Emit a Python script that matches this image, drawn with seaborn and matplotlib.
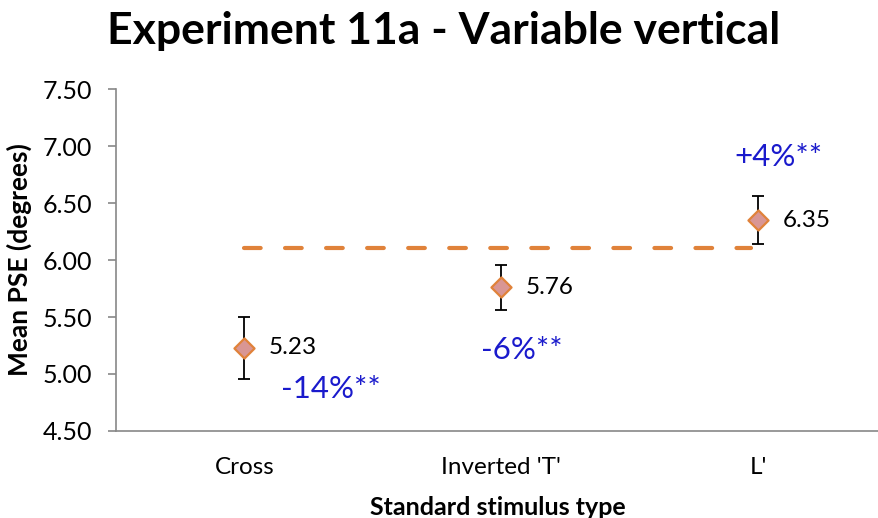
import matplotlib
matplotlib.use("Agg")
import matplotlib.pyplot as plt
import seaborn as sns
import pandas as pd

# Data
stimuli = ["Cross", "Inverted 'T'", "L'"]
mean_pse = [5.23, 5.76, 6.35]
pse_error = [0.27, 0.20, 0.21]
baseline_pse = 6.11
change_labels = ["-14%**", "-6%**", "+4%**"]
change_label_pos = [(0.335, 4.87), (1.08, 5.21), (2.08, 6.90)]
y_ticks = [4.50, 5.00, 5.50, 6.00, 6.50, 7.00, 7.50]

df = pd.DataFrame({"stimulus": stimuli, "pse": mean_pse, "err": pse_error})

sns.set_style("white")
plt.rcParams["font.family"] = ["Lato", "DejaVu Sans"]
plt.rcParams["text.color"] = "black"
plt.rcParams["axes.labelcolor"] = "black"

fig = plt.figure(figsize=(8.79, 5.18), dpi=100)
ax = fig.add_axes([0.132, 0.168, 0.868, 0.660])

orange = "#E0823A"
pink = "#D99694"
blue = "#1A1ACC"

# Reference line for the baseline condition
ax.plot([0, 1.973], [baseline_pse, baseline_pse], color=orange, lw=3,
        linestyle=(0, (4.0, 5.85)), dash_capstyle="round", zorder=1)

# Error bars
ax.errorbar(range(len(stimuli)), df["pse"], yerr=df["err"], fmt="none",
            ecolor="black", elinewidth=1.3, capsize=4.5, capthick=1.3, zorder=2)

# Means
sns.scatterplot(data=df, x="stimulus", y="pse", marker="D", s=105,
                color=pink, edgecolor=orange, linewidth=1.6, ax=ax, zorder=3)

# Value labels
for i, v in enumerate(mean_pse):
    ax.text(i + 0.095, v, f"{v:.2f}", ha="left", va="center", fontsize=17.5, color="black")

# Percentage change labels
for lab, (x, y) in zip(change_labels, change_label_pos):
    ax.text(x, y, lab, ha="center", va="center", fontsize=22.5, color=blue)

ax.set_xlim(-0.5, 2.47)
ax.set_ylim(4.5, 7.5)
ax.set_yticks(y_ticks)
ax.set_yticklabels([f"{t:.2f}" for t in y_ticks], fontsize=18)
ax.set_xticks(range(len(stimuli)))
ax.set_xticklabels(stimuli, fontsize=17.5)

for s in ["top", "right"]:
    ax.spines[s].set_visible(False)
for s in ["left", "bottom"]:
    ax.spines[s].set_color("#888888")
    ax.spines[s].set_linewidth(1.2)
ax.tick_params(axis="y", which="major", left=True, length=6, width=1.2,
               color="#888888", labelcolor="black", pad=11)
ax.tick_params(axis="x", which="major", bottom=False, labelcolor="black", pad=15)

ax.set_xlabel("Standard stimulus type", fontsize=18, fontweight="bold", labelpad=13)
ax.set_ylabel("Mean PSE (degrees)", fontsize=19, fontweight="bold", labelpad=8)
fig.suptitle("Experiment 11a - Variable vertical", fontsize=32, fontweight="bold",
             x=0.505, y=0.978, color="black")

fig.savefig("out.png", dpi=100)
